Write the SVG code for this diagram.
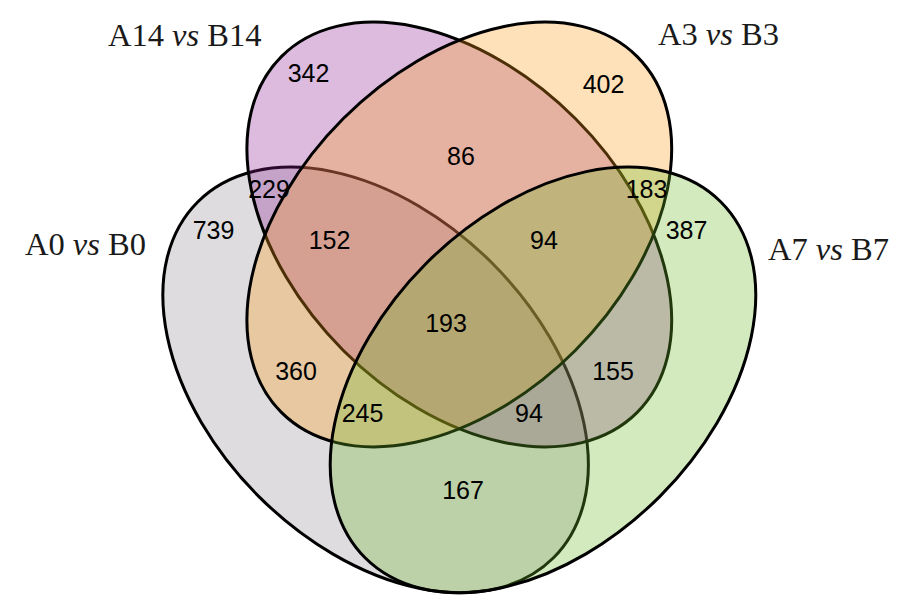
<svg xmlns="http://www.w3.org/2000/svg" width="911" height="616" viewBox="0 0 911 616">
<style>
.set{stroke:#000;stroke-width:3;fill-opacity:0.3}
.num{font-family:"Liberation Sans",Arial,sans-serif;font-size:25px;fill:#000;text-anchor:middle}
.title{font-family:"Liberation Serif","Times New Roman",serif;font-size:32.5px;fill:#1a1a1a}
.title tspan.i{font-style:italic}
</style>
<rect width="911" height="616" fill="#fff"/>
<g id="set-A0">
<ellipse class="set" cx="375.6" cy="379.9" rx="251.6" ry="165" fill="#918C91" transform="rotate(45 375.6 379.9)"/>
<text class="title" x="25" y="255">A0 <tspan class="i">vs</tspan> B0</text>
</g>
<g id="set-A14">
<ellipse class="set" cx="459.3" cy="234.5" rx="251.6" ry="164" fill="#8C1E96" transform="rotate(45 459.3 234.5)"/>
<text class="title" x="108" y="45.5">A14 <tspan class="i">vs</tspan> B14</text>
</g>
<g id="set-A3">
<ellipse class="set" cx="459.3" cy="234.5" rx="251.6" ry="164" fill="#FC9B14" transform="rotate(-45 459.3 234.5)"/>
<text class="title" x="658" y="45">A3 <tspan class="i">vs</tspan> B3</text>
</g>
<g id="set-A7">
<ellipse class="set" cx="543" cy="379.9" rx="251.6" ry="165" fill="#6EB928" transform="rotate(-45 543 379.9)"/>
<text class="title" x="768" y="260">A7 <tspan class="i">vs</tspan> B7</text>
</g>
<g id="counts">
<text class="num" x="308.5" y="82">342</text>
<text class="num" x="603.5" y="93">402</text>
<text class="num" x="461" y="165">86</text>
<text class="num" x="269" y="198">229</text>
<text class="num" x="646.5" y="198">183</text>
<text class="num" x="213.5" y="238.5">739</text>
<text class="num" x="686.5" y="238.5">387</text>
<text class="num" x="329.5" y="248.5">152</text>
<text class="num" x="544" y="248.5">94</text>
<text class="num" x="446" y="331.5">193</text>
<text class="num" x="296" y="380">360</text>
<text class="num" x="613" y="380">155</text>
<text class="num" x="362.5" y="422">245</text>
<text class="num" x="529" y="422">94</text>
<text class="num" x="463" y="498.5">167</text>
</g>
</svg>
